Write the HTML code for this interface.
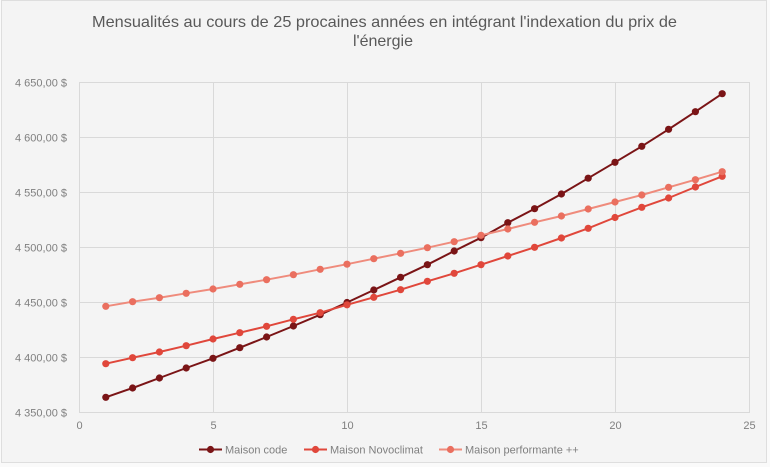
<!DOCTYPE html>
<html><head><meta charset="utf-8"><style>
html,body{margin:0;padding:0;background:#fafafa;}
svg{display:block;}
text{font-family:"Liberation Sans",sans-serif;}
</style></head><body>
<svg width="770" height="467" viewBox="0 0 770 467" xmlns="http://www.w3.org/2000/svg">
<rect x="1.5" y="0.5" width="765" height="462" fill="#f4f4f4" stroke="#dedede"/>
<text x="384.5" y="27" font-size="16" fill="#595959" text-anchor="middle" textLength="585" lengthAdjust="spacingAndGlyphs">Mensualités au cours de 25 procaines années en intégrant l'indexation du prix de</text>
<text x="383" y="46" font-size="16" fill="#595959" text-anchor="middle">l'énergie</text>
<g stroke="#d9d9d9" stroke-width="1" fill="none">
<line x1="79" y1="82.5" x2="750" y2="82.5"/>
<line x1="79" y1="137.5" x2="750" y2="137.5"/>
<line x1="79" y1="192.5" x2="750" y2="192.5"/>
<line x1="79" y1="247.5" x2="750" y2="247.5"/>
<line x1="79" y1="302.5" x2="750" y2="302.5"/>
<line x1="79" y1="357.5" x2="750" y2="357.5"/>
<line x1="79" y1="412.5" x2="750" y2="412.5"/>
<line x1="79.5" y1="82" x2="79.5" y2="413"/>
<line x1="213.5" y1="82" x2="213.5" y2="413"/>
<line x1="347.5" y1="82" x2="347.5" y2="413"/>
<line x1="481.5" y1="82" x2="481.5" y2="413"/>
<line x1="615.5" y1="82" x2="615.5" y2="413"/>
<line x1="749.5" y1="82" x2="749.5" y2="413"/>
</g>
<g font-size="11" fill="#7f7f7f" text-anchor="end">
<text x="67" y="86.5">4 650,00 $</text>
<text x="67" y="141.5">4 600,00 $</text>
<text x="67" y="196.5">4 550,00 $</text>
<text x="67" y="251.5">4 500,00 $</text>
<text x="67" y="306.5">4 450,00 $</text>
<text x="67" y="361.5">4 400,00 $</text>
<text x="67" y="416.5">4 350,00 $</text>
</g>
<g font-size="11" fill="#7f7f7f" text-anchor="middle">
<text x="79.5" y="429">0</text>
<text x="213.5" y="429">5</text>
<text x="347.5" y="429">10</text>
<text x="481.5" y="429">15</text>
<text x="615.5" y="429">20</text>
<text x="749.5" y="429">25</text>
</g>
<!-- Maison code -->
<g>
<polyline fill="none" stroke="#7a1416" stroke-width="2" points="105.8,397.3 132.6,388 159.4,378 186.2,368 213,358.3 239.8,347.7 266.6,337 293.4,326 320.2,314.7 347,302.5 373.8,290 400.6,277.3 427.4,264.7 454.2,251 481,237.7 507.8,222.7 534.6,208.7 561.4,194 588.2,178.2 615,162.3 641.8,146.3 668.6,129.3 695.4,111.7 722.2,93.7"/>
<g fill="#7a1416">
<circle cx="105.8" cy="397.3" r="3.6"/><circle cx="132.6" cy="388" r="3.6"/><circle cx="159.4" cy="378" r="3.6"/><circle cx="186.2" cy="368" r="3.6"/><circle cx="213" cy="358.3" r="3.6"/><circle cx="239.8" cy="347.7" r="3.6"/><circle cx="266.6" cy="337" r="3.6"/><circle cx="293.4" cy="326" r="3.6"/><circle cx="320.2" cy="314.7" r="3.6"/><circle cx="347" cy="302.5" r="3.6"/><circle cx="373.8" cy="290" r="3.6"/><circle cx="400.6" cy="277.3" r="3.6"/><circle cx="427.4" cy="264.7" r="3.6"/><circle cx="454.2" cy="251" r="3.6"/><circle cx="481" cy="237.7" r="3.6"/><circle cx="507.8" cy="222.7" r="3.6"/><circle cx="534.6" cy="208.7" r="3.6"/><circle cx="561.4" cy="194" r="3.6"/><circle cx="588.2" cy="178.2" r="3.6"/><circle cx="615" cy="162.3" r="3.6"/><circle cx="641.8" cy="146.3" r="3.6"/><circle cx="668.6" cy="129.3" r="3.6"/><circle cx="695.4" cy="111.7" r="3.6"/><circle cx="722.2" cy="93.7" r="3.6"/>
</g>
</g>
<!-- Maison Novoclimat -->
<g>
<polyline fill="none" stroke="#e0473b" stroke-width="2" points="105.8,363.7 132.6,357.7 159.4,352 186.2,345.7 213,339 239.8,332.7 266.6,326.3 293.4,319.3 320.2,312.7 347,304.8 373.8,297.3 400.6,289.7 427.4,281.3 454.2,273.3 481,264.7 507.8,256 534.6,247.3 561.4,238 588.2,228.3 615,217.5 641.8,207.3 668.6,198 695.4,187 722.2,176.3"/>
<g fill="#e0473b">
<circle cx="105.8" cy="363.7" r="3.6"/><circle cx="132.6" cy="357.7" r="3.6"/><circle cx="159.4" cy="352" r="3.6"/><circle cx="186.2" cy="345.7" r="3.6"/><circle cx="213" cy="339" r="3.6"/><circle cx="239.8" cy="332.7" r="3.6"/><circle cx="266.6" cy="326.3" r="3.6"/><circle cx="293.4" cy="319.3" r="3.6"/><circle cx="320.2" cy="312.7" r="3.6"/><circle cx="347" cy="304.8" r="3.6"/><circle cx="373.8" cy="297.3" r="3.6"/><circle cx="400.6" cy="289.7" r="3.6"/><circle cx="427.4" cy="281.3" r="3.6"/><circle cx="454.2" cy="273.3" r="3.6"/><circle cx="481" cy="264.7" r="3.6"/><circle cx="507.8" cy="256" r="3.6"/><circle cx="534.6" cy="247.3" r="3.6"/><circle cx="561.4" cy="238" r="3.6"/><circle cx="588.2" cy="228.3" r="3.6"/><circle cx="615" cy="217.5" r="3.6"/><circle cx="641.8" cy="207.3" r="3.6"/><circle cx="668.6" cy="198" r="3.6"/><circle cx="695.4" cy="187" r="3.6"/><circle cx="722.2" cy="176.3" r="3.6"/>
</g>
</g>
<!-- Maison performante ++ -->
<g>
<polyline fill="none" stroke="#ef8b7c" stroke-width="2" points="105.8,306.3 132.6,301.7 159.4,297.7 186.2,293.3 213,289 239.8,284.3 266.6,279.7 293.4,274.7 320.2,269.3 347,264.2 373.8,258.7 400.6,253.3 427.4,247.7 454.2,241.7 481,235.3 507.8,229 534.6,222.3 561.4,216 588.2,209 615,202 641.8,195 668.6,187.3 695.4,179.7 722.2,171.7"/>
<g fill="#ea6f5f">
<circle cx="105.8" cy="306.3" r="3.6"/><circle cx="132.6" cy="301.7" r="3.6"/><circle cx="159.4" cy="297.7" r="3.6"/><circle cx="186.2" cy="293.3" r="3.6"/><circle cx="213" cy="289" r="3.6"/><circle cx="239.8" cy="284.3" r="3.6"/><circle cx="266.6" cy="279.7" r="3.6"/><circle cx="293.4" cy="274.7" r="3.6"/><circle cx="320.2" cy="269.3" r="3.6"/><circle cx="347" cy="264.2" r="3.6"/><circle cx="373.8" cy="258.7" r="3.6"/><circle cx="400.6" cy="253.3" r="3.6"/><circle cx="427.4" cy="247.7" r="3.6"/><circle cx="454.2" cy="241.7" r="3.6"/><circle cx="481" cy="235.3" r="3.6"/><circle cx="507.8" cy="229" r="3.6"/><circle cx="534.6" cy="222.3" r="3.6"/><circle cx="561.4" cy="216" r="3.6"/><circle cx="588.2" cy="209" r="3.6"/><circle cx="615" cy="202" r="3.6"/><circle cx="641.8" cy="195" r="3.6"/><circle cx="668.6" cy="187.3" r="3.6"/><circle cx="695.4" cy="179.7" r="3.6"/><circle cx="722.2" cy="171.7" r="3.6"/>
</g>
</g>
<!-- Legend -->
<g font-size="11" fill="#7f7f7f">
<line x1="199" y1="449.5" x2="222" y2="449.5" stroke="#7a1416" stroke-width="2"/>
<circle cx="210.5" cy="449.5" r="3.6" fill="#7a1416"/>
<text x="225" y="453.5">Maison code</text>
<line x1="304" y1="449.5" x2="327" y2="449.5" stroke="#e0473b" stroke-width="2"/>
<circle cx="315.5" cy="449.5" r="3.6" fill="#e0473b"/>
<text x="330" y="453.5">Maison Novoclimat</text>
<line x1="439" y1="449.5" x2="462" y2="449.5" stroke="#ef8b7c" stroke-width="2"/>
<circle cx="450.5" cy="449.5" r="3.6" fill="#ea6f5f"/>
<text x="465" y="453.5">Maison performante ++</text>
</g>
</svg>
</body></html>
